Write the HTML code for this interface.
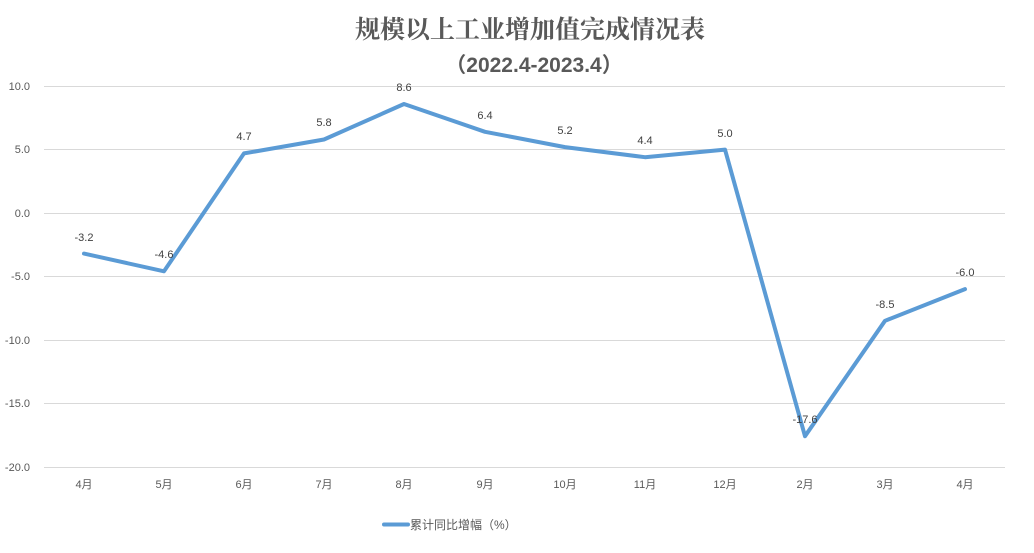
<!DOCTYPE html>
<html><head><meta charset="utf-8"><style>
body{margin:0;background:#fff;}
svg{display:block;font-family:"Liberation Sans","Noto Sans CJK SC",sans-serif;}
</style></head><body>
<svg width="1034" height="553" viewBox="0 0 1034 553">
<rect width="1034" height="553" fill="#fff"/>
<text x="530" y="38" text-anchor="middle" font-family="'Noto Serif CJK SC',serif" font-size="25" font-weight="bold" fill="#595959">规模以上工业增加值完成情况表</text>
<text x="534" y="72" text-anchor="middle" font-family="'Liberation Sans','Noto Sans CJK SC',sans-serif" font-size="21" font-weight="bold" fill="#595959">（2022.4-2023.4）</text>
<g stroke="#d9d9d9" stroke-width="1">
<line x1="44" y1="86.5" x2="1005" y2="86.5"/>
<line x1="44" y1="149.5" x2="1005" y2="149.5"/>
<line x1="44" y1="213.5" x2="1005" y2="213.5"/>
<line x1="44" y1="276.5" x2="1005" y2="276.5"/>
<line x1="44" y1="340.5" x2="1005" y2="340.5"/>
<line x1="44" y1="403.5" x2="1005" y2="403.5"/>
<line x1="44" y1="467.5" x2="1005" y2="467.5"/>
</g>
<g font-size="11" fill="#595959" text-anchor="end">
<text x="30" y="90">10.0</text><text x="30" y="153">5.0</text><text x="30" y="217">0.0</text>
<text x="30" y="280">-5.0</text><text x="30" y="344">-10.0</text><text x="30" y="407">-15.0</text><text x="30" y="471">-20.0</text>
</g>
<g font-size="11" fill="#595959" text-anchor="middle">
<text x="84" y="488">4月</text><text x="164" y="488">5月</text><text x="244" y="488">6月</text><text x="324" y="488">7月</text>
<text x="404" y="488">8月</text><text x="485" y="488">9月</text><text x="565" y="488">10月</text><text x="645" y="488">11月</text>
<text x="725" y="488">12月</text><text x="805" y="488">2月</text><text x="885" y="488">3月</text><text x="965" y="488">4月</text>
</g>
<polyline fill="none" stroke="#5b9bd5" stroke-width="4" stroke-linejoin="round" stroke-linecap="round"
points="84,253.6 164,271.3 244,153.4 324,139.5 404,104 485,131.8 565,147.1 645,157.2 725,149.6 805,436.2 885,320.8 965,289.1"/>
<g font-size="11" fill="#404040" text-anchor="middle">
<text x="84" y="241">-3.2</text><text x="164" y="258">-4.6</text><text x="244" y="140">4.7</text><text x="324" y="126">5.8</text>
<text x="404" y="91">8.6</text><text x="485" y="119">6.4</text><text x="565" y="134">5.2</text><text x="645" y="144">4.4</text>
<text x="725" y="137">5.0</text><text x="805" y="423">-17.6</text><text x="885" y="308">-8.5</text><text x="965" y="276">-6.0</text>
</g>
<line x1="384" y1="524.5" x2="408" y2="524.5" stroke="#5b9bd5" stroke-width="4" stroke-linecap="round"/>
<text x="410" y="529" font-size="12" fill="#595959">累计同比增幅（%）</text>
</svg>
</body></html>
